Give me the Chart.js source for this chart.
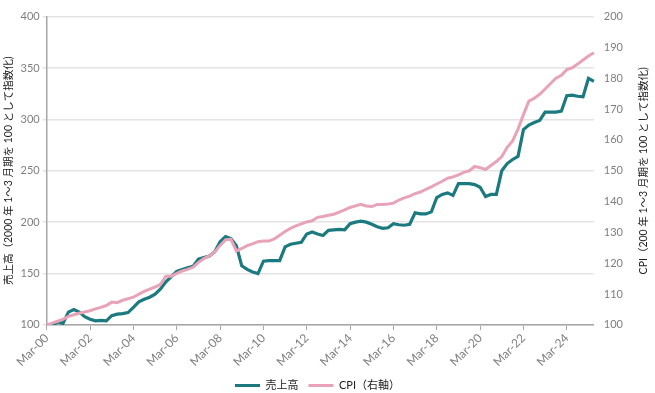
<!DOCTYPE html>
<html>
<head>
<meta charset="utf-8">
<script src="https://cdn.jsdelivr.net/npm/chart.js@4.4.1/dist/chart.umd.min.js"></script>
<style>
html,body{margin:0;padding:0;background:#fff;}
#wrap{width:655px;height:393px;}
</style>
</head>
<body>
<div id="wrap"><canvas id="c" width="655" height="393"></canvas></div>
<script>
const quarters = [
"Mar-00","Jun-00","Sep-00","Dec-00","Mar-01","Jun-01","Sep-01","Dec-01",
"Mar-02","Jun-02","Sep-02","Dec-02","Mar-03","Jun-03","Sep-03","Dec-03",
"Mar-04","Jun-04","Sep-04","Dec-04","Mar-05","Jun-05","Sep-05","Dec-05",
"Mar-06","Jun-06","Sep-06","Dec-06","Mar-07","Jun-07","Sep-07","Dec-07",
"Mar-08","Jun-08","Sep-08","Dec-08","Mar-09","Jun-09","Sep-09","Dec-09",
"Mar-10","Jun-10","Sep-10","Dec-10","Mar-11","Jun-11","Sep-11","Dec-11",
"Mar-12","Jun-12","Sep-12","Dec-12","Mar-13","Jun-13","Sep-13","Dec-13",
"Mar-14","Jun-14","Sep-14","Dec-14","Mar-15","Jun-15","Sep-15","Dec-15",
"Mar-16","Jun-16","Sep-16","Dec-16","Mar-17","Jun-17","Sep-17","Dec-17",
"Mar-18","Jun-18","Sep-18","Dec-18","Mar-19","Jun-19","Sep-19","Dec-19",
"Mar-20","Jun-20","Sep-20","Dec-20","Mar-21","Jun-21","Sep-21","Dec-21",
"Mar-22","Jun-22","Sep-22","Dec-22","Mar-23","Jun-23","Sep-23","Dec-23",
"Mar-24","Jun-24","Sep-24","Dec-24","Mar-25","Jun-25"
];
const shownTickLabels = ["Mar-00","Mar-02","Mar-04","Mar-06","Mar-08","Mar-10","Mar-12","Mar-14","Mar-16","Mar-18","Mar-20","Mar-22","Mar-24"];

const sales = [
100,99,103,101.5,112.5,115,112.5,108,
105.5,104,104.5,104,109,110.5,111,112,
117,122.5,125,127,130,135,142,147,
152,154,155.5,157,164,165.5,167,171,
181,186,184,177,157.5,154,151.5,150,
162,162.5,162.5,162.5,176,178.5,179.5,180.5,
188.5,190.5,188.5,187,192,192.5,193,192.5,
198.5,200,201,200,198,195.5,194,194.5,
198.5,197.5,197,198,209,208,208,210,
224,227,228.5,226,237.5,237.5,237.5,236.5,
234,225,227,227,250,257,261,264,
290,294.5,297,299,307,307,307,308,
323,323.5,322.5,322,340,337
];
const cpi = [
100,100.6,101.2,101.8,102.8,103.3,103.8,104.2,
104.6,105.2,105.7,106.3,107.4,107.2,108,108.5,
109,110,110.9,111.6,112.3,113.2,115.8,115.8,
116.7,117.5,118,118.7,120.3,121.5,122.4,123.6,
125.8,127.6,127.8,124,124.8,125.7,126.3,127,
127.2,127.2,127.9,129.1,130.3,131.3,132.1,132.8,
133.4,133.8,134.9,135.2,135.6,135.9,136.6,137.3,
138.1,138.6,139.1,138.6,138.4,139.1,139.1,139.2,
139.5,140.5,141.2,141.8,142.6,143.1,144,144.8,
145.7,146.6,147.6,148,148.7,149.5,150,151.4,
151,150.4,151.7,153,154.6,157.6,159.7,163.5,
168.2,172.6,173.5,174.8,176.5,178.3,180,181,
182.8,183.4,184.6,185.9,187.2,188.3
];
const seriesNames = ["売上高", "CPI（右軸）"];
const leftTitle = "売上高（2000 年 1～3 月期を 100 として指数化)";
const rightTitle = "CPI（200 年 1～3 月期を 100 として指数化)";

const TEAL = "#1b7a80";
const PINK = "#e8a3b8";
const FONT = "Lato, 'Noto Sans CJK JP', sans-serif";
const TICKGRAY = "#7f7f7f";

const rightTitlePlugin = {
  id: "rightTitle",
  afterDraw(chart) {
    const ctx = chart.ctx;
    const area = chart.chartArea;
    ctx.save();
    ctx.font = "10.5px " + FONT;
    ctx.fillStyle = "#222";
    ctx.textAlign = "center";
    ctx.textBaseline = "middle";
    ctx.translate(644, (area.top + area.bottom) / 2);
    ctx.rotate(-Math.PI / 2);
    ctx.fillText(rightTitle, 0, 0);
    ctx.restore();
  }
};

new Chart(document.getElementById("c"), {
  type: "line",
  data: {
    labels: quarters,
    datasets: [
      { label: seriesNames[0], data: sales, yAxisID: "y", borderColor: TEAL, backgroundColor: TEAL,
        borderWidth: 3.2, pointRadius: 0, tension: 0, order: 2 },
      { label: seriesNames[1], data: cpi, yAxisID: "y1", borderColor: PINK, backgroundColor: PINK,
        borderWidth: 3, pointRadius: 0, tension: 0, order: 1 }
    ]
  },
  options: {
    responsive: false,
    animation: false,
    layout: { padding: { left: 2, right: 22, top: 1, bottom: -8 } },
    plugins: {
      legend: {
        position: "bottom",
        labels: {
          font: { family: FONT, size: 11 },
          color: "#222",
          boxWidth: 25,
          boxHeight: 3,
          padding: 10,
          sort: (a, b) => a.datasetIndex - b.datasetIndex,
          generateLabels(chart) {
            return Chart.defaults.plugins.legend.labels.generateLabels(chart).map(l => ({ ...l, lineWidth: 0 }));
          }
        }
      },
      tooltip: { enabled: false }
    },
    scales: {
      x: {
        offset: false,
        grid: { drawOnChartArea: false, drawTicks: true, tickLength: 5, color: "#a6a6a6" },
        border: { color: "#a6a6a6", width: 1.5 },
        ticks: {
          autoSkip: false,
          maxRotation: 45,
          minRotation: 45,
          color: TICKGRAY,
          font: { family: FONT, size: 12 },
          padding: 1,
          callback(v, i) {
            const lab = quarters[i];
            return shownTickLabels.includes(lab) ? lab : null;
          }
        }
      },
      y: {
        position: "left",
        min: 100, max: 400,
        ticks: { stepSize: 50, color: TICKGRAY, font: { family: FONT, size: 11 }, padding: 3 },
        grid: { color: "#e3e3e3", lineWidth: 1.5, tickLength: 4, drawTicks: true },
        border: { color: "#a6a6a6", width: 1.5 },
        title: { display: true, text: leftTitle, color: "#222", font: { family: FONT, size: 10.5 }, padding: { top: 0, bottom: 3 } }
      },
      y1: {
        position: "right",
        min: 100, max: 200,
        ticks: { stepSize: 10, color: TICKGRAY, font: { family: FONT, size: 11 }, padding: 10 },
        grid: { display: false, drawTicks: false },
        border: { display: false }
      }
    }
  },
  plugins: [rightTitlePlugin]
});
</script>
</body>
</html>
